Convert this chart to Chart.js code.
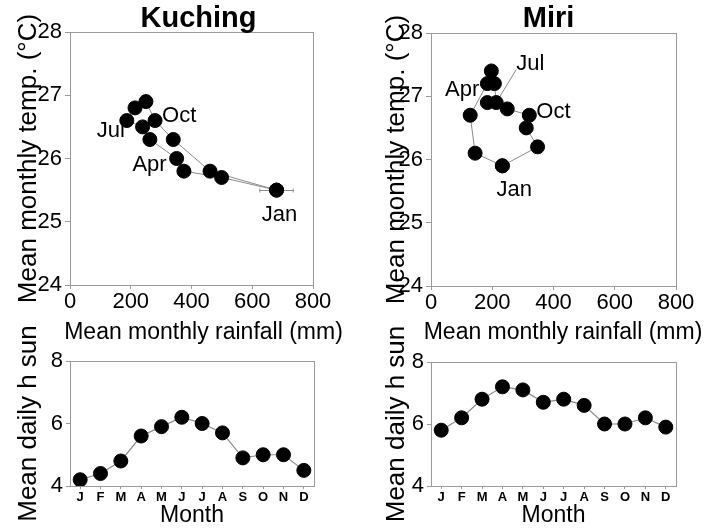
<!DOCTYPE html>
<html><head><meta charset="utf-8">
<script src="https://cdn.jsdelivr.net/npm/chart.js@4/dist/chart.umd.min.js"></script>
<style>
html,body{margin:0;padding:0;background:#fff;width:709px;height:530px;overflow:hidden;position:relative}
canvas{position:absolute}
</style></head><body>
<canvas id="tl" width="355" height="350" style="left:0;top:0;width:355px;height:350px"></canvas>
<canvas id="tr" width="354" height="350" style="left:355px;top:0;width:354px;height:350px"></canvas>
<canvas id="bl" width="355" height="230" style="left:0;top:300px;width:355px;height:230px"></canvas>
<canvas id="br" width="354" height="230" style="left:355px;top:300px;width:354px;height:230px"></canvas>
<script>
// ---- data ----
const months = ['Jan','Feb','Mar','Apr','May','Jun','Jul','Aug','Sep','Oct','Nov','Dec'];
const monthTicks = ['J','F','M','A','M','J','J','A','S','O','N','D'];
const kuchingRain = [680, 499, 375, 351, 263, 239, 187, 214, 250, 280, 340, 461];
const kuchingTemp = [25.5, 25.7, 25.8, 26.0, 26.3, 26.5, 26.6, 26.8, 26.9, 26.6, 26.3, 25.8];
const kuchingRainErr = [55, null, null, null, null, null, null, null, null, null, null, null];
const miriRain = [233, 144, 128, 184, 197, 207, 213, 184, 249, 321, 311, 348];
const miriTemp = [25.9, 26.1, 26.7, 27.2, 27.4, 27.2, 26.9, 26.9, 26.8, 26.7, 26.5, 26.2];
const kuchingSun = [4.2, 4.4, 4.8, 5.6, 5.9, 6.2, 6.0, 5.7, 4.9, 5.0, 5.0, 4.5];
const miriSun = [5.8, 6.2, 6.8, 7.2, 7.1, 6.7, 6.8, 6.6, 6.0, 6.0, 6.2, 5.9];
const rainTicks = [0, 200, 400, 600, 800];
const tempTicks = [24, 25, 26, 27, 28];
const sunTicks = [4, 6, 8];

// ---- style ----
const FAM = "'Liberation Sans', Arial, Helvetica, sans-serif";
const FRAME = '#9a9a9a', LINE = '#8a8a8a';
Chart.defaults.font.family = FAM;
Chart.defaults.color = '#000';
Chart.defaults.animation = false;

const deco = {
  id: 'deco',
  beforeDatasetsDraw(chart, args, o) {
    const ctx = chart.ctx, a = chart.chartArea;
    const xs = chart.scales.x, ys = chart.scales.y;
    ctx.save();
    ctx.strokeStyle = FRAME; ctx.lineWidth = 1;
    const L = Math.round(a.left), T = Math.round(a.top), R = Math.round(a.right), B = Math.round(a.bottom);
    ctx.strokeRect(L + 0.5, T + 0.5, R - L, B - T);
    const pts = chart.data.datasets[0].data;
    if (o.err) {
      ctx.strokeStyle = LINE; ctx.lineWidth = 1;
      o.err.forEach((e, i) => {
        if (e == null) return;
        const p = pts[i];
        const yy = Math.round(ys.getPixelForValue(p.y)) + 0.5;
        const x1 = xs.getPixelForValue(p.x - e), x2 = xs.getPixelForValue(p.x + e);
        ctx.beginPath();
        ctx.moveTo(x1, yy); ctx.lineTo(x2, yy);
        ctx.moveTo(x1, yy - 2); ctx.lineTo(x1, yy + 2);
        ctx.moveTo(x2, yy - 2); ctx.lineTo(x2, yy + 2);
        ctx.stroke();
      });
    }
    (o.marks || []).forEach(l => {
      const p = pts[months.indexOf(l.month)];
      const px = xs.getPixelForValue(p.x), py = ys.getPixelForValue(p.y);
      if (l.leader) {
        ctx.strokeStyle = LINE; ctx.lineWidth = 1;
        ctx.beginPath(); ctx.moveTo(px + l.leader[0], py + l.leader[1]); ctx.lineTo(px, py); ctx.stroke();
      }
      ctx.fillStyle = '#000';
      ctx.font = '22px ' + FAM;
      ctx.textAlign = l.align; ctx.textBaseline = 'middle';
      ctx.fillText(l.month, px + l.dx, py + l.dy);
    });
    ctx.restore();
  },
  afterDraw(chart, args, o) {
    const ctx = chart.ctx, a = chart.chartArea;
    const cx = (a.left + a.right) / 2;
    ctx.save();
    ctx.fillStyle = '#000'; ctx.textAlign = 'center'; ctx.textBaseline = 'alphabetic';
    if (o.title) { ctx.font = 'bold 29px ' + FAM; ctx.fillText(o.title.text, cx + o.title.dx, o.title.y); }
    if (o.xTitle) { ctx.font = '23px ' + FAM; ctx.fillText(o.xTitle.text, cx + o.xTitle.dx, o.xTitle.y); }
    ctx.restore();
  }
};

function loop(rain, temp) {
  const p = rain.map((r, i) => ({x: r, y: temp[i]}));
  p.push(p[0]);
  return p;
}

function scatterChart(id, title, rain, temp, err, g) {
  return new Chart(document.getElementById(id), {
    type: 'scatter',
    data: { datasets: [{
      data: loop(rain, temp), showLine: true, tension: 0,
      borderColor: LINE, borderWidth: 1,
      pointRadius: 7, pointHoverRadius: 7,
      pointBackgroundColor: '#000', pointBorderColor: '#000', pointBorderWidth: 1
    }]},
    options: {
      responsive: false, animation: false, events: [],
      layout: { padding: { left: 0, top: g.top, right: g.right, bottom: 0 } },
      scales: {
        x: {
          type: 'linear', min: rainTicks[0], max: rainTicks[rainTicks.length - 1],
          ticks: { stepSize: rainTicks[1] - rainTicks[0], padding: 0, maxRotation: 0, font: { size: 22 } },
          grid: { drawOnChartArea: false, tickLength: 4, color: FRAME },
          border: { display: false },
          afterFit: s => { s.height = g.xh; }
        },
        y: {
          min: tempTicks[0], max: tempTicks[tempTicks.length - 1],
          ticks: { stepSize: tempTicks[1] - tempTicks[0], padding: 3, font: { size: 22 } },
          grid: { drawOnChartArea: false, tickLength: 5, color: FRAME },
          border: { display: false },
          title: { display: true, text: 'Mean monthly temp. (°C)', font: { size: 26 }, padding: { top: g.yt, bottom: 0 } },
          afterFit: s => { s.width = g.yw; }
        }
      },
      plugins: {
        legend: { display: false }, tooltip: { enabled: false },
        deco: {
          title: { text: title, dx: g.tdx, y: 27 },
          xTitle: { text: 'Mean monthly rainfall (mm)', dx: g.xdx, y: 339 },
          err: err, marks: g.marks
        }
      }
    },
    plugins: [deco]
  });
}

function sunChart(id, sun, g) {
  return new Chart(document.getElementById(id), {
    type: 'line',
    data: { labels: monthTicks, datasets: [{
      data: sun, tension: 0,
      borderColor: LINE, borderWidth: 1.2,
      pointRadius: 7, pointHoverRadius: 7,
      pointBackgroundColor: '#000', pointBorderColor: '#000', pointBorderWidth: 1
    }]},
    options: {
      responsive: false, animation: false, events: [],
      layout: { padding: { left: 0, top: g.top, right: g.right, bottom: 0 } },
      scales: {
        x: {
          type: 'category', offset: true,
          ticks: { padding: 1, maxRotation: 0, autoSkip: false, font: { size: 13, weight: 'bold' } },
          grid: { drawOnChartArea: false, tickLength: 3, color: FRAME },
          border: { display: false },
          title: { display: true, text: 'Month', font: { size: 23 }, padding: { top: 0, bottom: 1 } },
          afterFit: s => { s.height = g.xh; }
        },
        y: {
          min: sunTicks[0], max: sunTicks[sunTicks.length - 1],
          ticks: { stepSize: sunTicks[1] - sunTicks[0], padding: 3, font: { size: 22 } },
          grid: { drawOnChartArea: false, tickLength: 4, color: FRAME },
          border: { display: false },
          title: { display: true, text: 'Mean daily h sun', font: { size: 26 }, padding: { top: g.yt, bottom: 0 } },
          afterFit: s => { s.width = g.yw; }
        }
      },
      plugins: { legend: { display: false }, tooltip: { enabled: false }, deco: {} }
    },
    plugins: [deco]
  });
}

scatterChart('tl', 'Kuching', kuchingRain, kuchingTemp, kuchingRainErr, {
  top: 32, right: 42, xh: 65, yw: 70, yt: 13, tdx: 7, xdx: 12,
  marks: [
    { month: 'Jan', align: 'center', dx: 3, dy: 25 },
    { month: 'Apr', align: 'right', dx: -10, dy: 6 },
    { month: 'Jul', align: 'right', dx: -2, dy: 10 },
    { month: 'Oct', align: 'left', dx: 7, dy: -5 }
  ]
});
scatterChart('tr', 'Miri', miriRain, miriTemp, null, {
  top: 33, right: 33, xh: 64, yw: 76, yt: 26, tdx: -5, xdx: 9.5,
  marks: [
    { month: 'Jan', align: 'center', dx: 12, dy: 24 },
    { month: 'Apr', align: 'right', dx: -8, dy: 6 },
    { month: 'Jul', align: 'center', dx: 34, dy: -39, leader: [20, -33] },
    { month: 'Oct', align: 'left', dx: 7, dy: -3 }
  ]
});
sunChart('bl', kuchingSun, { top: 61, right: 41, xh: 44, yw: 70, yt: 13 });
sunChart('br', miriSun, { top: 62, right: 33, xh: 44, yw: 76, yt: 26 });
</script>
</body></html>
